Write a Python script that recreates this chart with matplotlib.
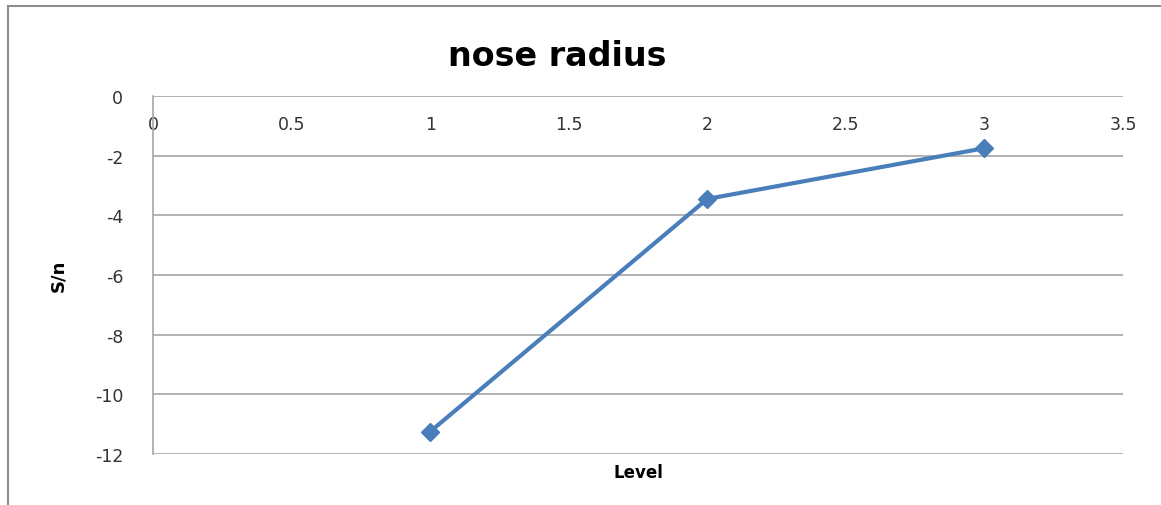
import matplotlib.pyplot as plt
from matplotlib.lines import Line2D

# data
levels = [1, 2, 3]
sn_values = [-11.25, -3.45, -1.75]
x_ticks = [0, 0.5, 1, 1.5, 2, 2.5, 3, 3.5]
x_tick_labels = ['0', '0.5', '1', '1.5', '2', '2.5', '3', '3.5']
y_ticks = [0, -2, -4, -6, -8, -10, -12]

plt.rcParams['font.family'] = ['DejaVu Sans']

fig = plt.figure(figsize=(11.61, 5.06), dpi=100)
ax = fig.add_axes([153 / 1161, 1 - 455 / 506, (1123 - 153) / 1161, (455 - 97) / 506])

ax.plot(levels, sn_values, color='#4a7ebb', linewidth=3, marker='D', markersize=9,
        markeredgecolor='#4a7ebb', zorder=3)

ax.set_xlim(0, 3.5)
ax.set_ylim(-12, 0)
ax.set_xticks(x_ticks)
ax.set_xticklabels(x_tick_labels)
ax.set_yticks(y_ticks)
ax.set_yticklabels([str(v) for v in y_ticks])

ax.grid(axis='y', color='#a6a6a6', linewidth=1.2)
ax.set_axisbelow(True)
for s in ['right', 'bottom', 'top']:
    ax.spines[s].set_visible(False)
ax.spines['left'].set_color('#a6a6a6')
ax.spines['left'].set_linewidth(1.2)

ax.tick_params(axis='x', top=False, bottom=False, labeltop=True, labelbottom=False,
               pad=-30, labelsize=12.5, labelcolor='#333333')
ax.tick_params(axis='y', left=False, pad=18, labelsize=12.5, labelcolor='#333333')

fig.text(557 / 1161, 1 - 57 / 506, 'nose radius', ha='center', va='center',
         fontsize=24, fontweight='bold', color='black')
fig.text(58 / 1161, 1 - 276 / 506, 'S/n', ha='center', va='center', rotation=90,
         fontsize=13, fontweight='bold')
fig.text(638 / 1161, 1 - 473 / 506, 'Level', ha='center', va='center',
         fontsize=12, fontweight='bold')

# chart frame (left and top edges)
fig.add_artist(Line2D([8 / 1161, 8 / 1161], [0, 1 - 7 / 506], transform=fig.transFigure,
                      color='#8c8c8c', linewidth=1.5))
fig.add_artist(Line2D([8 / 1161, 1], [1 - 7 / 506, 1 - 7 / 506], transform=fig.transFigure,
                      color='#8c8c8c', linewidth=1.5))

fig.savefig('out.png', dpi=100)
